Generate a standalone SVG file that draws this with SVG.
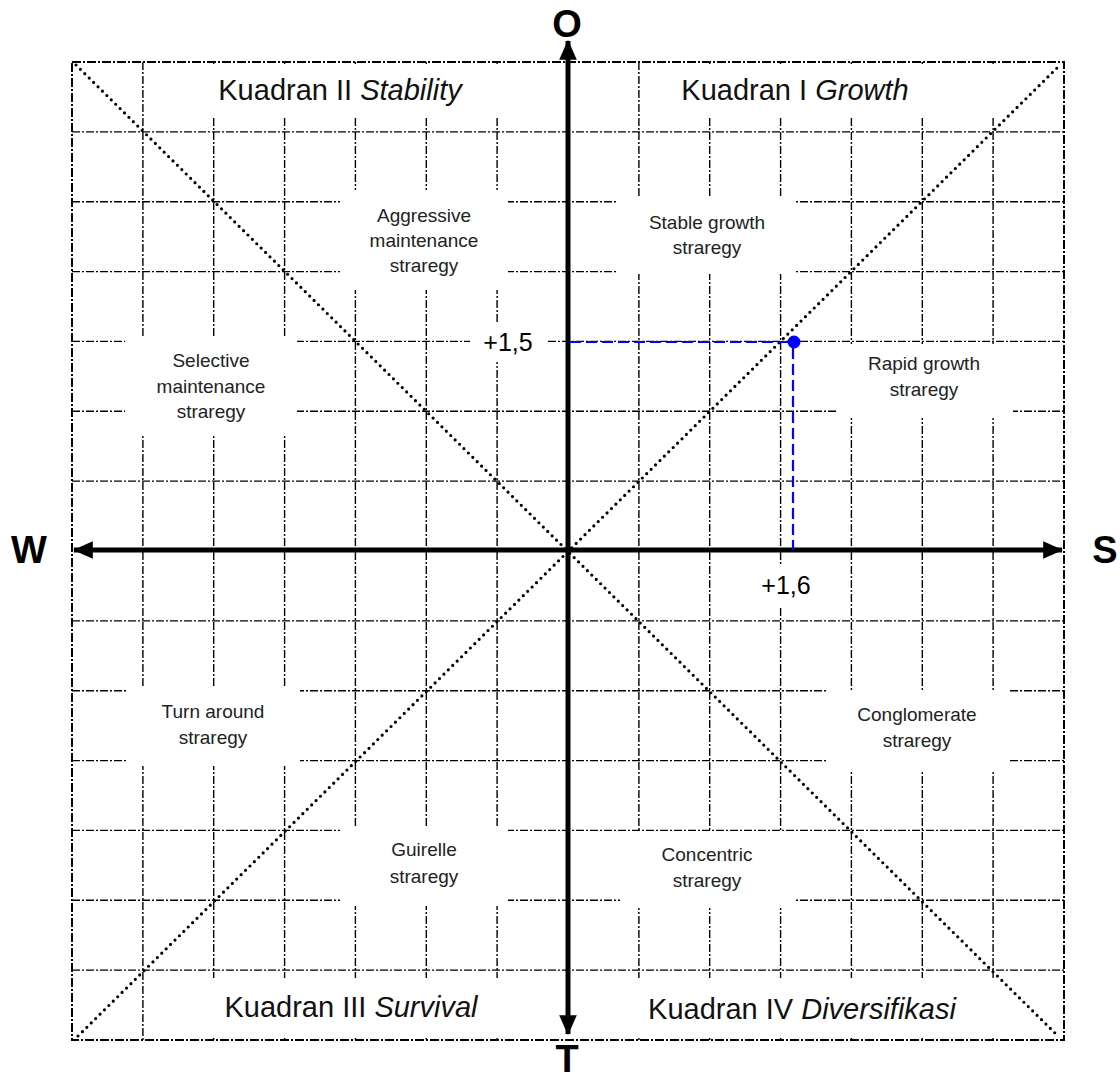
<svg xmlns="http://www.w3.org/2000/svg" width="1120" height="1080" viewBox="0 0 1120 1080">
<style>
.grid{stroke:#000;stroke-width:1.4;stroke-dasharray:8 2 2 2;fill:none}
.frame{stroke:#000;stroke-width:2;stroke-dasharray:9 2 2 2;fill:none}
.box{fill:#fff;stroke:none}
.diag{stroke:#000;stroke-width:3.2;stroke-dasharray:0 6.2;stroke-linecap:round;fill:none}
.axis{stroke:#000;stroke-width:5;fill:none}
.lbl{font-family:"Liberation Sans",Arial,sans-serif;font-size:19px;fill:#222;text-anchor:middle}
.quad{font-family:"Liberation Sans",Arial,sans-serif;font-size:29px;fill:#111;text-anchor:middle}
.num{font-family:"Liberation Sans",Arial,sans-serif;font-size:25px;fill:#000;text-anchor:middle}
.dir{font-family:"Liberation Sans",Arial,sans-serif;font-size:38px;font-weight:bold;fill:#000;text-anchor:middle}
.blue{stroke:#0000ff;stroke-width:2.2;stroke-dasharray:11 5;fill:none}
</style>
<defs>
<marker id="arr" markerWidth="4" markerHeight="4" refX="3.2" refY="1.5" orient="auto-start-reverse" markerUnits="strokeWidth" viewBox="0 0 3.4 3">
<path d="M0,0 L3.4,1.5 L0,3 Z" fill="#000"/>
</marker>
</defs>
<rect width="1120" height="1080" fill="#fff"/>
<g id="grid">
<path class="grid" d="M142.9,62V1040M213.7,62V1040M284.6,62V1040M355.4,62V1040M426.3,62V1040M497.1,62V1040M638.9,62V1040M709.7,62V1040M780.6,62V1040M851.4,62V1040M922.3,62V1040M993.1,62V1040"/>
<path class="grid" d="M72,131.9H1064M72,201.7H1064M72,271.6H1064M72,341.4H1064M72,411.3H1064M72,481.1H1064M72,620.9H1064M72,690.7H1064M72,760.6H1064M72,830.4H1064M72,900.3H1064M72,970.1H1064"/>
</g>
<g id="boxes">
<rect class="box" x="146" y="64" width="415" height="53"/>
<rect class="box" x="641" y="64" width="360" height="53"/>
<rect class="box" x="340" y="190" width="168" height="100"/>
<rect class="box" x="618" y="196" width="178" height="78"/>
<rect class="box" x="125" y="338" width="172" height="98"/>
<rect class="box" x="838" y="344" width="175" height="74"/>
<rect class="box" x="128" y="688" width="172" height="78"/>
<rect class="box" x="828" y="690" width="182" height="80"/>
<rect class="box" x="340" y="828" width="168" height="78"/>
<rect class="box" x="620" y="832" width="176" height="76"/>
<rect class="box" x="146" y="978" width="358" height="58"/>
<rect class="box" x="634" y="978" width="362" height="58"/>
<rect class="box" x="470" y="322" width="76" height="40"/>
<rect class="box" x="748" y="566" width="76" height="40"/>
</g>
<rect id="frame" class="frame" x="72" y="62" width="992" height="978"/>
<g id="diagonals">
<line class="diag" x1="76" y1="65" x2="1058" y2="1036"/>
<line class="diag" x1="78" y1="1036" x2="1060" y2="65"/>
</g>
<g id="connectors">
<line class="axis" x1="74" y1="550" x2="1062" y2="550" marker-start="url(#arr)" marker-end="url(#arr)"/>
<line class="axis" x1="568" y1="41" x2="568" y2="1034" marker-start="url(#arr)" marker-end="url(#arr)"/>
<line class="blue" x1="570" y1="342" x2="790" y2="342"/>
<line class="blue" x1="793" y1="348" x2="793" y2="550"/>
<circle cx="794" cy="342" r="6.5" fill="#0000ff"/>
</g>
<g id="quadrants">
<text class="quad" x="340" y="100">Kuadran II <tspan font-style="italic">Stability</tspan></text>
<text class="quad" x="795" y="100">Kuadran I <tspan font-style="italic">Growth</tspan></text>
<text class="quad" x="351" y="1017">Kuadran III <tspan font-style="italic">Survival</tspan></text>
<text class="quad" x="802" y="1019">Kuadran IV <tspan font-style="italic">Diversifikasi</tspan></text>
</g>
<g id="n-aggressive"><text class="lbl" x="424" y="222">Aggressive</text><text class="lbl" x="424" y="247">maintenance</text><text class="lbl" x="424" y="272">straregy</text></g>
<g id="n-stable"><text class="lbl" x="707" y="229">Stable growth</text><text class="lbl" x="707" y="254">straregy</text></g>
<g id="n-selective"><text class="lbl" x="211" y="367">Selective</text><text class="lbl" x="211" y="393">maintenance</text><text class="lbl" x="211" y="418">straregy</text></g>
<g id="n-rapid"><text class="lbl" x="924" y="370">Rapid growth</text><text class="lbl" x="924" y="396">straregy</text></g>
<g id="n-turn"><text class="lbl" x="213" y="718">Turn around</text><text class="lbl" x="213" y="744">straregy</text></g>
<g id="n-conglomerate"><text class="lbl" x="917" y="721">Conglomerate</text><text class="lbl" x="917" y="747">straregy</text></g>
<g id="n-guirelle"><text class="lbl" x="424" y="856">Guirelle</text><text class="lbl" x="424" y="883">straregy</text></g>
<g id="n-concentric"><text class="lbl" x="707" y="861">Concentric</text><text class="lbl" x="707" y="887">straregy</text></g>
<g id="values">
<text class="num" x="508" y="351">+1,5</text>
<text class="num" x="786" y="594">+1,6</text>
</g>
<g id="directions">
<text class="dir" x="567" y="37" font-size="35">O</text>
<text class="dir" x="567" y="1072" font-size="35">T</text>
<text class="dir" x="29" y="563">W</text>
<text class="dir" x="1105" y="563">S</text>
</g>
</svg>
